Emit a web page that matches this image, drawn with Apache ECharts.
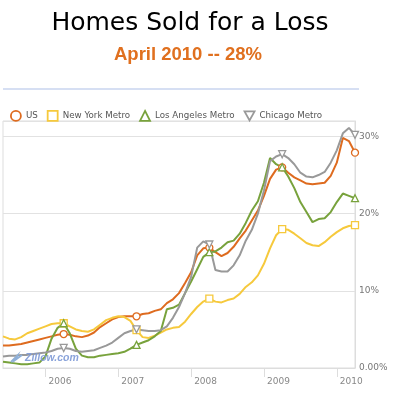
<!DOCTYPE html>
<html>
<head>
<meta charset="utf-8">
<script src="https://cdn.jsdelivr.net/npm/echarts@6/dist/echarts.min.js"></script>
<style>
html,body{margin:0;padding:0;background:#fff;}
#chart{width:396px;height:401px;}
</style>
</head>
<body>
<div id="chart"></div>
<script>
const months = [
 'Jun 2005','Jul 2005','Aug 2005','Sep 2005','Oct 2005','Nov 2005','Dec 2005',
 'Jan 2006','Feb 2006','Mar 2006','Apr 2006','May 2006','Jun 2006','Jul 2006','Aug 2006','Sep 2006','Oct 2006','Nov 2006','Dec 2006',
 'Jan 2007','Feb 2007','Mar 2007','Apr 2007','May 2007','Jun 2007','Jul 2007','Aug 2007','Sep 2007','Oct 2007','Nov 2007','Dec 2007',
 'Jan 2008','Feb 2008','Mar 2008','Apr 2008','May 2008','Jun 2008','Jul 2008','Aug 2008','Sep 2008','Oct 2008','Nov 2008','Dec 2008',
 'Jan 2009','Feb 2009','Mar 2009','Apr 2009','May 2009','Jun 2009','Jul 2009','Aug 2009','Sep 2009','Oct 2009','Nov 2009','Dec 2009',
 'Jan 2010','Feb 2010','Mar 2010','Apr 2010'
];
const seriesNames = ['US', 'New York Metro', 'Los Angeles Metro', 'Chicago Metro'];
const us = [2.9,2.9,3.0,3.1,3.3,3.5,3.7,3.9,4.1,4.3,
            4.4,4.3,4.1,4.0,4.2,4.6,5.3,5.8,6.3,6.6,
            6.7,6.7,6.7,7.0,7.1,7.4,7.6,8.4,8.9,9.7,
            11.0,12.4,14.6,15.5,15.6,15.0,14.5,14.9,15.7,16.8,
            17.8,19.1,20.4,22.3,24.5,25.7,26.0,25.3,24.7,24.3,
            23.9,23.8,23.9,24.0,24.9,26.6,29.8,29.4,27.9];
const newYork = [4.1,3.8,3.7,4.0,4.5,4.8,5.1,5.4,5.7,5.8,
                 5.8,5.4,5.0,4.8,4.7,5.0,5.6,6.2,6.5,6.7,
                 6.6,6.1,4.9,4.0,3.9,4.2,4.6,5.0,5.2,5.3,
                 6.0,7.0,7.9,8.6,9.0,8.6,8.5,8.8,9.0,9.6,
                 10.5,11.1,12.0,13.5,15.5,17.2,18.0,17.9,17.4,16.8,
                 16.2,15.9,15.8,16.3,17.0,17.6,18.1,18.4,18.5];
const losAngeles = [0.8,0.7,0.6,0.5,0.5,0.6,0.7,1.5,3.8,5.2,
                    5.8,4.5,2.5,1.6,1.4,1.4,1.6,1.7,1.8,1.9,
                    2.1,2.5,3.0,3.3,3.6,4.1,4.8,7.6,7.8,8.2,
                    9.7,11.2,12.8,14.4,15.0,15.1,15.6,16.3,16.5,17.4,
                    18.8,20.4,21.6,24.0,27.2,26.4,26.0,24.8,23.3,21.5,
                    20.2,18.9,19.3,19.4,20.2,21.5,22.6,22.3,22.0];
const chicago = [1.5,1.6,1.6,1.7,1.7,1.8,1.9,2.0,2.2,2.5,
                 2.6,2.5,2.2,2.1,2.2,2.3,2.6,2.9,3.3,3.9,
                 4.5,4.8,5.0,4.9,4.8,4.8,4.9,5.4,6.5,7.9,
                 9.7,11.8,15.6,16.4,16.0,12.7,12.5,12.5,13.3,14.6,
                 16.5,17.9,20.0,23.0,26.8,27.4,27.7,27.2,26.4,25.3,
                 24.8,24.7,25.0,25.4,26.6,28.2,30.4,31.1,30.2];
const yTicks = [0, 10, 20, 30];
const yTickLabels = ['0.00%', '10%', '20%', '30%'];
const colors = ['#de6b1f', '#f6c93c', '#78a23c', '#999999'];
const symbols = ['circle', 'rect', 'triangle', 'path://M0,0L10,0L5,9Z'];
const markerMonth = 'Apr';

const values = [us, newYork, losAngeles, chicago];
const chart = echarts.init(document.getElementById('chart'), null, {renderer: 'canvas'});

const isMarker = (i) => months[i].indexOf(markerMonth) === 0;
const isJan = (i) => months[i].indexOf('Jan') === 0;

const series = seriesNames.map((name, k) => ({
  name: name,
  type: 'line',
  data: values[k],
  symbol: symbols[k],
  showAllSymbol: true,
  symbolSize: (v, p) => isMarker(p.dataIndex) ? 7 : 0,
  lineStyle: {color: colors[k], width: 2},
  itemStyle: {color: '#ffffff', borderColor: colors[k], borderWidth: 1.3},
  emphasis: {disabled: true},
  z: 2
}));

chart.setOption({
  animation: false,
  backgroundColor: '#ffffff',
  textStyle: {fontFamily: 'DejaVu Sans'},
  legend: {
    left: 5, top: 105,
    itemWidth: 10, itemHeight: 10, itemGap: 9,
    selectedMode: false,
    textStyle: {fontSize: 8.7, color: '#555555', fontFamily: 'DejaVu Sans', padding: [0,0,0,0]},
    itemStyle: {borderWidth: 1.8},
    data: seriesNames.map((n, k) => ({name: n, icon: symbols[k]}))
  },
  grid: {
    left: 3, right: 41, top: 121, bottom: 33,
    show: true, borderColor: '#dddddd', borderWidth: 1
  },
  xAxis: {
    type: 'category',
    data: months,
    boundaryGap: false,
    axisLine: {lineStyle: {color: '#dddddd'}},
    axisTick: {show: true, interval: (i) => isJan(i), length: 9, lineStyle: {color: '#dddddd'}},
    axisLabel: {
      interval: (i) => isJan(i),
      formatter: (v) => v.split(' ')[1],
      align: 'left', padding: [0, 0, 0, 3],
      fontSize: 9, color: '#888888', margin: 9, fontFamily: 'DejaVu Sans'
    },
    splitLine: {show: false}
  },
  yAxis: {
    type: 'value',
    position: 'right',
    min: 0, max: 32, interval: 10,
    axisLine: {show: true, lineStyle: {color: '#dddddd'}},
    axisTick: {show: false},
    splitLine: {lineStyle: {color: '#e2e2e2', width: 1}},
    axisLabel: {
      formatter: (v) => { const j = yTicks.indexOf(v); return j >= 0 ? yTickLabels[j] : ''; },
      fontSize: 9, color: '#777777', margin: 4, fontFamily: 'DejaVu Sans'
    }
  },
  graphic: [
    {type: 'text', left: null, x: 190, y: 23, style: {text: 'Homes Sold for a Loss', font: '25px "DejaVu Sans"', fill: '#000000', align: 'center', verticalAlign: 'middle'}},
    {type: 'text', x: 188, y: 55, style: {text: 'April 2010 -- 28%', font: 'bold 18.5px "Liberation Sans"', fill: '#e0701f', align: 'center', verticalAlign: 'middle'}},
    {type: 'line', shape: {x1: 3, y1: 89, x2: 359, y2: 89}, style: {stroke: '#d6dff3', lineWidth: 2}},
    {type: 'polyline', shape: {points: [[11,362],[17,356],[15,360],[22,355]]}, style: {stroke: '#8fb0d8', lineWidth: 2, fill: null}, z: 10},
    {type: 'text', x: 25, y: 358, z: 10, style: {text: 'Zillow.com', font: 'italic bold 10.5px "Liberation Sans"', fill: '#7d99d6', opacity: 0.9, align: 'left', verticalAlign: 'middle'}}
  ],
  series: series
});
</script>
</body>
</html>
